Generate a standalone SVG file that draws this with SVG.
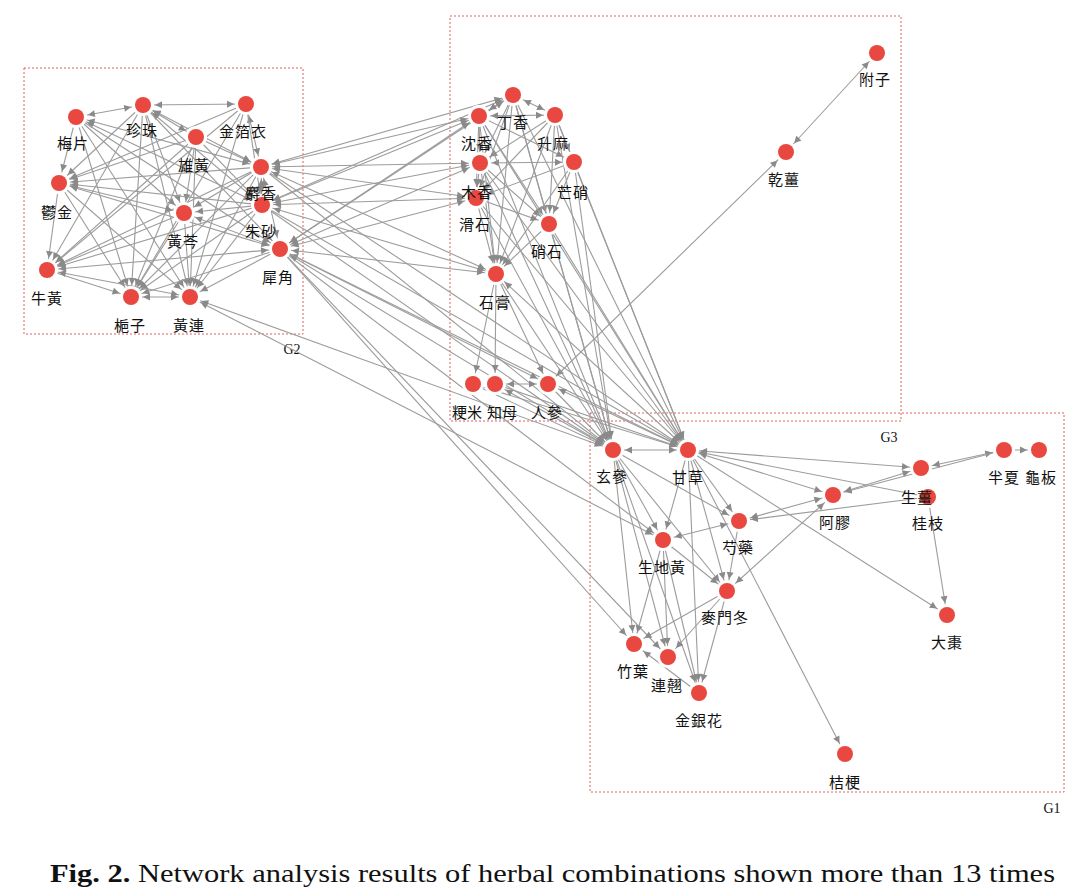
<svg xmlns="http://www.w3.org/2000/svg" width="1084" height="890" viewBox="0 0 1084 890">
<style>
.e{stroke:#9c9c9c;stroke-width:1.1;fill:none;marker-end:url(#ah)}
.b{marker-start:url(#ah)}
.n{fill:#e8483f}
.h{fill:#fff}
.t{font-family:"Noto Sans CJK KR","Noto Sans CJK SC",sans-serif;font-size:15px;fill:#111;text-anchor:middle;letter-spacing:1px}
.box{fill:none;stroke:#e06060;stroke-width:1;stroke-dasharray:2 2}
.g{font-family:"Liberation Serif",serif;font-size:14px;fill:#111;text-anchor:middle}
</style>
<defs>
<marker id="ah" viewBox="-20 -4 24 8" markerWidth="24" markerHeight="8" refX="0" refY="0" orient="auto-start-reverse" markerUnits="userSpaceOnUse">
<path d="M-12,0 L-19,-3.5 L-19,3.5 Z" fill="#8a8a8a"/>
</marker>
</defs>
<rect width="1084" height="890" fill="#fff"/>
<g id="groups">
<rect class="box" x="24" y="68" width="279" height="266"/>
<text class="g" x="292" y="354">G2</text>
<rect class="box" x="450" y="16" width="451" height="405"/>
<text class="g" x="889" y="442">G3</text>
<rect class="box" x="590" y="413" width="474" height="379"/>
<text class="g" x="1052" y="813">G1</text>
</g>
<g id="connectors">
<line class="e b" x1="76" y1="117" x2="143" y2="105"/>
<line class="e b" x1="143" y1="105" x2="246" y2="104"/>
<line class="e" x1="76" y1="117" x2="59" y2="183"/>
<line class="e" x1="59" y1="183" x2="47" y2="270"/>
<line class="e b" x1="131" y1="297" x2="190" y2="297"/>
<line class="e" x1="47" y1="270" x2="131" y2="297"/>
<line class="e b" x1="76" y1="117" x2="261" y2="167"/>
<line class="e b" x1="76" y1="117" x2="262" y2="205"/>
<line class="e" x1="76" y1="117" x2="184" y2="213"/>
<line class="e" x1="76" y1="117" x2="280" y2="249"/>
<line class="e" x1="76" y1="117" x2="190" y2="297"/>
<line class="e" x1="76" y1="117" x2="131" y2="297"/>
<line class="e" x1="143" y1="105" x2="59" y2="183"/>
<line class="e" x1="143" y1="105" x2="47" y2="270"/>
<line class="e b" x1="143" y1="105" x2="261" y2="167"/>
<line class="e b" x1="143" y1="105" x2="262" y2="205"/>
<line class="e" x1="143" y1="105" x2="184" y2="213"/>
<line class="e" x1="143" y1="105" x2="190" y2="297"/>
<line class="e" x1="143" y1="105" x2="131" y2="297"/>
<line class="e" x1="143" y1="105" x2="280" y2="249"/>
<line class="e b" x1="246" y1="104" x2="261" y2="167"/>
<line class="e" x1="246" y1="104" x2="262" y2="205"/>
<line class="e" x1="246" y1="104" x2="59" y2="183"/>
<line class="e" x1="246" y1="104" x2="47" y2="270"/>
<line class="e" x1="246" y1="104" x2="190" y2="297"/>
<line class="e" x1="246" y1="104" x2="131" y2="297"/>
<line class="e" x1="196" y1="137" x2="261" y2="167"/>
<line class="e" x1="196" y1="137" x2="262" y2="205"/>
<line class="e" x1="196" y1="137" x2="59" y2="183"/>
<line class="e" x1="196" y1="137" x2="184" y2="213"/>
<line class="e" x1="196" y1="137" x2="190" y2="297"/>
<line class="e" x1="196" y1="137" x2="47" y2="270"/>
<line class="e b" x1="196" y1="137" x2="143" y2="105"/>
<line class="e" x1="196" y1="137" x2="131" y2="297"/>
<line class="e" x1="261" y1="167" x2="59" y2="183"/>
<line class="e" x1="261" y1="167" x2="184" y2="213"/>
<line class="e" x1="261" y1="167" x2="47" y2="270"/>
<line class="e" x1="261" y1="167" x2="131" y2="297"/>
<line class="e" x1="261" y1="167" x2="190" y2="297"/>
<line class="e" x1="262" y1="205" x2="59" y2="183"/>
<line class="e" x1="262" y1="205" x2="184" y2="213"/>
<line class="e" x1="262" y1="205" x2="47" y2="270"/>
<line class="e" x1="262" y1="205" x2="131" y2="297"/>
<line class="e" x1="262" y1="205" x2="190" y2="297"/>
<line class="e b" x1="59" y1="183" x2="184" y2="213"/>
<line class="e" x1="59" y1="183" x2="131" y2="297"/>
<line class="e" x1="59" y1="183" x2="190" y2="297"/>
<line class="e b" x1="59" y1="183" x2="280" y2="249"/>
<line class="e" x1="184" y1="213" x2="47" y2="270"/>
<line class="e" x1="184" y1="213" x2="131" y2="297"/>
<line class="e" x1="184" y1="213" x2="190" y2="297"/>
<line class="e b" x1="184" y1="213" x2="280" y2="249"/>
<line class="e b" x1="280" y1="249" x2="47" y2="270"/>
<line class="e" x1="280" y1="249" x2="131" y2="297"/>
<line class="e" x1="280" y1="249" x2="190" y2="297"/>
<line class="e b" x1="280" y1="249" x2="261" y2="167"/>
<line class="e b" x1="261" y1="167" x2="262" y2="205"/>
<line class="e b" x1="47" y1="270" x2="190" y2="297"/>
<line class="e b" x1="261" y1="167" x2="513" y2="95"/>
<line class="e b" x1="261" y1="167" x2="479" y2="116"/>
<line class="e b" x1="261" y1="167" x2="480" y2="163"/>
<line class="e b" x1="261" y1="167" x2="476" y2="198"/>
<line class="e b" x1="261" y1="167" x2="496" y2="274"/>
<line class="e b" x1="262" y1="205" x2="513" y2="95"/>
<line class="e b" x1="262" y1="205" x2="479" y2="116"/>
<line class="e b" x1="262" y1="205" x2="480" y2="163"/>
<line class="e b" x1="262" y1="205" x2="476" y2="198"/>
<line class="e b" x1="262" y1="205" x2="496" y2="274"/>
<line class="e b" x1="280" y1="249" x2="513" y2="95"/>
<line class="e b" x1="280" y1="249" x2="479" y2="116"/>
<line class="e b" x1="280" y1="249" x2="480" y2="163"/>
<line class="e b" x1="280" y1="249" x2="476" y2="198"/>
<line class="e b" x1="280" y1="249" x2="496" y2="274"/>
<line class="e" x1="261" y1="167" x2="613" y2="450"/>
<line class="e" x1="261" y1="167" x2="688" y2="450"/>
<line class="e" x1="262" y1="205" x2="613" y2="450"/>
<line class="e" x1="262" y1="205" x2="688" y2="450"/>
<line class="e b" x1="280" y1="249" x2="613" y2="450"/>
<line class="e b" x1="280" y1="249" x2="688" y2="450"/>
<line class="e" x1="280" y1="249" x2="634" y2="644"/>
<line class="e" x1="280" y1="249" x2="663" y2="540"/>
<line class="e" x1="280" y1="249" x2="668" y2="657"/>
<line class="e" x1="280" y1="249" x2="548" y2="384"/>
<line class="e b" x1="190" y1="297" x2="613" y2="450"/>
<line class="e b" x1="190" y1="297" x2="663" y2="540"/>
<line class="e b" x1="513" y1="95" x2="479" y2="116"/>
<line class="e b" x1="513" y1="95" x2="555" y2="115"/>
<line class="e" x1="513" y1="95" x2="480" y2="163"/>
<line class="e" x1="513" y1="95" x2="476" y2="198"/>
<line class="e" x1="513" y1="95" x2="549" y2="224"/>
<line class="e" x1="513" y1="95" x2="496" y2="274"/>
<line class="e" x1="479" y1="116" x2="480" y2="163"/>
<line class="e b" x1="479" y1="116" x2="555" y2="115"/>
<line class="e" x1="479" y1="116" x2="476" y2="198"/>
<line class="e" x1="479" y1="116" x2="549" y2="224"/>
<line class="e" x1="479" y1="116" x2="496" y2="274"/>
<line class="e" x1="479" y1="116" x2="574" y2="162"/>
<line class="e" x1="555" y1="115" x2="480" y2="163"/>
<line class="e" x1="555" y1="115" x2="549" y2="224"/>
<line class="e" x1="555" y1="115" x2="496" y2="274"/>
<line class="e" x1="555" y1="115" x2="476" y2="198"/>
<line class="e" x1="555" y1="115" x2="574" y2="162"/>
<line class="e b" x1="480" y1="163" x2="574" y2="162"/>
<line class="e" x1="480" y1="163" x2="476" y2="198"/>
<line class="e" x1="480" y1="163" x2="549" y2="224"/>
<line class="e" x1="480" y1="163" x2="496" y2="274"/>
<line class="e" x1="574" y1="162" x2="549" y2="224"/>
<line class="e" x1="574" y1="162" x2="496" y2="274"/>
<line class="e" x1="574" y1="162" x2="476" y2="198"/>
<line class="e" x1="476" y1="198" x2="549" y2="224"/>
<line class="e" x1="476" y1="198" x2="496" y2="274"/>
<line class="e" x1="549" y1="224" x2="496" y2="274"/>
<line class="e" x1="496" y1="274" x2="473" y2="384"/>
<line class="e" x1="496" y1="274" x2="495" y2="384"/>
<line class="e" x1="496" y1="274" x2="548" y2="384"/>
<line class="e b" x1="495" y1="384" x2="548" y2="384"/>
<line class="e b" x1="786" y1="152" x2="548" y2="384"/>
<line class="e b" x1="877" y1="53" x2="786" y2="152"/>
<line class="e" x1="513" y1="95" x2="688" y2="450"/>
<line class="e" x1="513" y1="95" x2="613" y2="450"/>
<line class="e" x1="479" y1="116" x2="688" y2="450"/>
<line class="e" x1="479" y1="116" x2="613" y2="450"/>
<line class="e" x1="555" y1="115" x2="688" y2="450"/>
<line class="e" x1="555" y1="115" x2="613" y2="450"/>
<line class="e" x1="480" y1="163" x2="688" y2="450"/>
<line class="e" x1="480" y1="163" x2="613" y2="450"/>
<line class="e" x1="574" y1="162" x2="688" y2="450"/>
<line class="e" x1="574" y1="162" x2="613" y2="450"/>
<line class="e" x1="476" y1="198" x2="688" y2="450"/>
<line class="e" x1="476" y1="198" x2="613" y2="450"/>
<line class="e" x1="549" y1="224" x2="688" y2="450"/>
<line class="e" x1="549" y1="224" x2="613" y2="450"/>
<line class="e b" x1="496" y1="274" x2="688" y2="450"/>
<line class="e" x1="496" y1="274" x2="613" y2="450"/>
<line class="e" x1="473" y1="384" x2="688" y2="450"/>
<line class="e" x1="473" y1="384" x2="613" y2="450"/>
<line class="e" x1="495" y1="384" x2="688" y2="450"/>
<line class="e b" x1="495" y1="384" x2="613" y2="450"/>
<line class="e b" x1="548" y1="384" x2="688" y2="450"/>
<line class="e" x1="548" y1="384" x2="613" y2="450"/>
<line class="e b" x1="613" y1="450" x2="688" y2="450"/>
<line class="e" x1="688" y1="450" x2="739" y2="521"/>
<line class="e" x1="688" y1="450" x2="663" y2="540"/>
<line class="e b" x1="688" y1="450" x2="921" y2="468"/>
<line class="e b" x1="688" y1="450" x2="833" y2="495"/>
<line class="e" x1="688" y1="450" x2="947" y2="615"/>
<line class="e" x1="688" y1="450" x2="845" y2="754"/>
<line class="e" x1="688" y1="450" x2="699" y2="693"/>
<line class="e" x1="688" y1="450" x2="727" y2="591"/>
<line class="e" x1="928" y1="497" x2="688" y2="450"/>
<line class="e b" x1="833" y1="495" x2="739" y2="521"/>
<line class="e" x1="928" y1="497" x2="739" y2="521"/>
<line class="e b" x1="833" y1="495" x2="921" y2="468"/>
<line class="e b" x1="921" y1="468" x2="1004" y2="450"/>
<line class="e" x1="1004" y1="450" x2="1039" y2="450"/>
<line class="e" x1="1004" y1="450" x2="833" y2="495"/>
<line class="e" x1="928" y1="497" x2="947" y2="615"/>
<line class="e b" x1="833" y1="495" x2="727" y2="591"/>
<line class="e" x1="613" y1="450" x2="663" y2="540"/>
<line class="e" x1="613" y1="450" x2="739" y2="521"/>
<line class="e" x1="613" y1="450" x2="727" y2="591"/>
<line class="e" x1="613" y1="450" x2="634" y2="644"/>
<line class="e" x1="613" y1="450" x2="668" y2="657"/>
<line class="e" x1="613" y1="450" x2="699" y2="693"/>
<line class="e b" x1="739" y1="521" x2="663" y2="540"/>
<line class="e" x1="739" y1="521" x2="727" y2="591"/>
<line class="e" x1="663" y1="540" x2="727" y2="591"/>
<line class="e" x1="663" y1="540" x2="634" y2="644"/>
<line class="e" x1="663" y1="540" x2="668" y2="657"/>
<line class="e" x1="663" y1="540" x2="699" y2="693"/>
<line class="e" x1="727" y1="591" x2="634" y2="644"/>
<line class="e" x1="727" y1="591" x2="668" y2="657"/>
<line class="e" x1="727" y1="591" x2="699" y2="693"/>
<line class="e" x1="699" y1="693" x2="634" y2="644"/>
</g>
<g id="n-zhusha"><circle class="h" cx="262" cy="205" r="11"/><circle class="n" cx="262" cy="205" r="8"/><text class="t" x="261" y="237">朱砂</text></g>
<g id="n-shexiang"><circle class="h" cx="261" cy="167" r="11"/><circle class="n" cx="261" cy="167" r="8"/><text class="t" x="261" y="199">麝香</text></g>
<g id="n-meipian"><circle class="h" cx="76" cy="117" r="11"/><circle class="n" cx="76" cy="117" r="8"/><text class="t" x="73" y="149">梅片</text></g>
<g id="n-zhenzhu"><circle class="h" cx="143" cy="105" r="11"/><circle class="n" cx="143" cy="105" r="8"/><text class="t" x="142" y="136">珍珠</text></g>
<g id="n-jinboyi"><circle class="h" cx="246" cy="104" r="11"/><circle class="n" cx="246" cy="104" r="8"/><text class="t" x="243" y="137">金箔衣</text></g>
<g id="n-xionghuang"><circle class="h" cx="196" cy="137" r="11"/><circle class="n" cx="196" cy="137" r="8"/><text class="t" x="194" y="171">雄黃</text></g>
<g id="n-yujin"><circle class="h" cx="59" cy="183" r="11"/><circle class="n" cx="59" cy="183" r="8"/><text class="t" x="57" y="218">鬱金</text></g>
<g id="n-huangqin"><circle class="h" cx="184" cy="213" r="11"/><circle class="n" cx="184" cy="213" r="8"/><text class="t" x="183" y="247">黃芩</text></g>
<g id="n-xijiao"><circle class="h" cx="280" cy="249" r="11"/><circle class="n" cx="280" cy="249" r="8"/><text class="t" x="278" y="283">犀角</text></g>
<g id="n-niuhuang"><circle class="h" cx="47" cy="270" r="11"/><circle class="n" cx="47" cy="270" r="8"/><text class="t" x="47" y="304">牛黃</text></g>
<g id="n-zhizi"><circle class="h" cx="131" cy="297" r="11"/><circle class="n" cx="131" cy="297" r="8"/><text class="t" x="130" y="331">梔子</text></g>
<g id="n-huanglian"><circle class="h" cx="190" cy="297" r="11"/><circle class="n" cx="190" cy="297" r="8"/><text class="t" x="189" y="331">黃連</text></g>
<g id="n-dingxiang"><circle class="h" cx="513" cy="95" r="11"/><circle class="n" cx="513" cy="95" r="8"/><text class="t" x="513" y="128">丁香</text></g>
<g id="n-chenxiang"><circle class="h" cx="479" cy="116" r="11"/><circle class="n" cx="479" cy="116" r="8"/><text class="t" x="477" y="149">沈香</text></g>
<g id="n-shengma"><circle class="h" cx="555" cy="115" r="11"/><circle class="n" cx="555" cy="115" r="8"/><text class="t" x="553" y="149">升麻</text></g>
<g id="n-huashi"><circle class="h" cx="476" cy="198" r="11"/><circle class="n" cx="476" cy="198" r="8"/><text class="t" x="475" y="230">滑石</text></g>
<g id="n-muxiang"><circle class="h" cx="480" cy="163" r="11"/><circle class="n" cx="480" cy="163" r="8"/><text class="t" x="477" y="198">木香</text></g>
<g id="n-mangxiao"><circle class="h" cx="574" cy="162" r="11"/><circle class="n" cx="574" cy="162" r="8"/><text class="t" x="573" y="198">芒硝</text></g>
<g id="n-xiaoshi"><circle class="h" cx="549" cy="224" r="11"/><circle class="n" cx="549" cy="224" r="8"/><text class="t" x="547" y="257">硝石</text></g>
<g id="n-shigao"><circle class="h" cx="496" cy="274" r="11"/><circle class="n" cx="496" cy="274" r="8"/><text class="t" x="495" y="308">石膏</text></g>
<g id="n-jingmi"><circle class="h" cx="473" cy="384" r="11"/><circle class="n" cx="473" cy="384" r="8"/><text class="t" x="467" y="418" style="letter-spacing:0">粳米</text></g>
<g id="n-zhimu"><circle class="h" cx="495" cy="384" r="11"/><circle class="n" cx="495" cy="384" r="8"/><text class="t" x="502" y="418" style="letter-spacing:0">知母</text></g>
<g id="n-renshen"><circle class="h" cx="548" cy="384" r="11"/><circle class="n" cx="548" cy="384" r="8"/><text class="t" x="547" y="418">人參</text></g>
<g id="n-fuzi"><circle class="h" cx="877" cy="53" r="11"/><circle class="n" cx="877" cy="53" r="8"/><text class="t" x="875" y="85">附子</text></g>
<g id="n-ganjiang"><circle class="h" cx="786" cy="152" r="11"/><circle class="n" cx="786" cy="152" r="8"/><text class="t" x="784" y="185">乾薑</text></g>
<g id="n-xuanshen"><circle class="h" cx="613" cy="450" r="11"/><circle class="n" cx="613" cy="450" r="8"/><text class="t" x="612" y="482">玄參</text></g>
<g id="n-gancao"><circle class="h" cx="688" cy="450" r="11"/><circle class="n" cx="688" cy="450" r="8"/><text class="t" x="688" y="483">甘草</text></g>
<g id="n-ejiao"><circle class="h" cx="833" cy="495" r="11"/><circle class="n" cx="833" cy="495" r="8"/><text class="t" x="835" y="528">阿膠</text></g>
<g id="n-shaoyao"><circle class="h" cx="739" cy="521" r="11"/><circle class="n" cx="739" cy="521" r="8"/><text class="t" x="738" y="553">芍藥</text></g>
<g id="n-shengdihuang"><circle class="h" cx="663" cy="540" r="11"/><circle class="n" cx="663" cy="540" r="8"/><text class="t" x="662" y="573">生地黃</text></g>
<g id="n-maimendong"><circle class="h" cx="727" cy="591" r="11"/><circle class="n" cx="727" cy="591" r="8"/><text class="t" x="725" y="623">麥門冬</text></g>
<g id="n-zhuye"><circle class="h" cx="634" cy="644" r="11"/><circle class="n" cx="634" cy="644" r="8"/><text class="t" x="633" y="677">竹葉</text></g>
<g id="n-lianqiao"><circle class="h" cx="668" cy="657" r="11"/><circle class="n" cx="668" cy="657" r="8"/><text class="t" x="667" y="691">連翹</text></g>
<g id="n-jinyinhua"><circle class="h" cx="699" cy="693" r="11"/><circle class="n" cx="699" cy="693" r="8"/><text class="t" x="699" y="726">金銀花</text></g>
<g id="n-jiegeng"><circle class="h" cx="845" cy="754" r="11"/><circle class="n" cx="845" cy="754" r="8"/><text class="t" x="845" y="788">桔梗</text></g>
<g id="n-guizhi"><circle class="h" cx="928" cy="497" r="11"/><circle class="n" cx="928" cy="497" r="8"/><text class="t" x="928" y="529">桂枝</text></g>
<g id="n-shengjiang"><circle class="h" cx="921" cy="468" r="11"/><circle class="n" cx="921" cy="468" r="8"/><text class="t" x="917" y="503">生薑</text></g>
<g id="n-banxia"><circle class="h" cx="1004" cy="450" r="11"/><circle class="n" cx="1004" cy="450" r="8"/><text class="t" x="1004" y="483">半夏</text></g>
<g id="n-guiban"><circle class="h" cx="1039" cy="450" r="11"/><circle class="n" cx="1039" cy="450" r="8"/><text class="t" x="1041" y="483">龜板</text></g>
<g id="n-dazao"><circle class="h" cx="947" cy="615" r="11"/><circle class="n" cx="947" cy="615" r="8"/><text class="t" x="947" y="648">大棗</text></g>
<text x="50" y="882" font-family="Liberation Serif, serif" font-size="25" fill="#111" textLength="1005" lengthAdjust="spacingAndGlyphs"><tspan font-weight="bold">Fig. 2.</tspan> Network analysis results of herbal combinations shown more than 13 times</text>
</svg>
